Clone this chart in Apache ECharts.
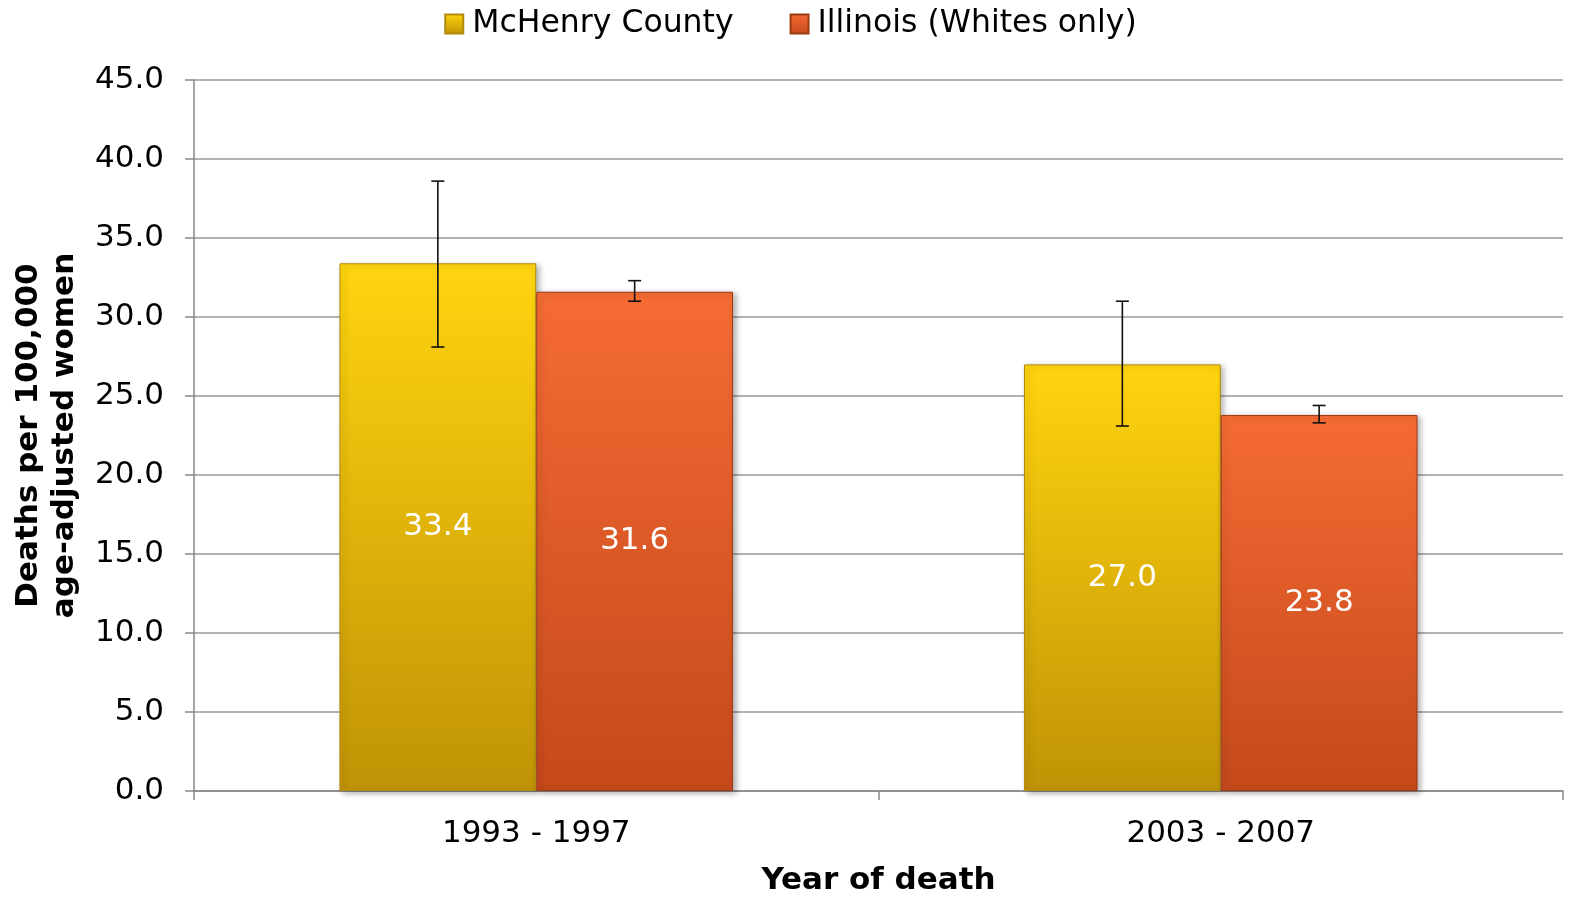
<!DOCTYPE html>
<html>
<head>
<meta charset="utf-8">
<script src="https://cdn.jsdelivr.net/npm/echarts@6/dist/echarts.min.js"></script>
<style>html,body{margin:0;padding:0;background:#fff;overflow:hidden;width:100%;height:100%}#c{width:100vw;height:100vh}</style>
</head>
<body>
<div id="c"></div>
<script>
const categories = ['1993 - 1997', '2003 - 2007'];
const seriesNames = ['McHenry County', 'Illinois (Whites only)'];
const mchenry = [33.4, 27.0];
const illinois = [31.6, 23.8];
const mchenryLow = [28.1, 23.1];
const mchenryHigh = [38.6, 31.0];
const illinoisLow = [31.0, 23.3];
const illinoisHigh = [32.3, 24.4];
const yTicks = [0, 5, 10, 15, 20, 25, 30, 35, 40, 45];

const FONT = 'DejaVu Sans';
const FS = 31;
const BAR_FRAC = 0.2875;

function grad(top, bottom) {
  return new echarts.graphic.LinearGradient(0, 0, 0, 1, [
    {offset: 0, color: top}, {offset: 1, color: bottom}
  ]);
}
const colA = grad('#FFD40F', '#C09306');
const colB = grad('#F56B34', '#C4491B');

function errSeries(name, low, high, sign) {
  return {
    type: 'custom',
    name: name + ' err',
    z: 10,
    silent: true,
    data: categories.map((c, i) => [i, low[i], high[i]]),
    renderItem: function (params, api) {
      const i = api.value(0);
      const lo = api.coord([i, api.value(1)]);
      const hi = api.coord([i, api.value(2)]);
      const w = api.size([1, 0])[0];
      const x = lo[0] + sign * w * BAR_FRAC / 2;
      const cap = 6.5;
      const st = {stroke: '#111', lineWidth: 1.6};
      return {
        type: 'group',
        children: [
          {type: 'line', shape: {x1: x, y1: lo[1], x2: x, y2: hi[1]}, style: st},
          {type: 'line', shape: {x1: x - cap, y1: lo[1], x2: x + cap, y2: lo[1]}, style: st},
          {type: 'line', shape: {x1: x - cap, y1: hi[1], x2: x + cap, y2: hi[1]}, style: st}
        ]
      };
    },
    encode: {x: 0, y: [1, 2]}
  };
}

const chart = echarts.init(document.getElementById('c'));
const barCommon = {
  type: 'bar',
  barWidth: (BAR_FRAC * 100) + '%',
  barGap: '0%',
  label: {
    show: true, position: 'inside', color: '#fff',
    fontFamily: FONT, fontSize: FS,
    formatter: p => p.value.toFixed(1)
  }
};
chart.setOption({
  animation: false,
  textStyle: {fontFamily: FONT},
  legend: {
    top: 3, left: 'center',
    itemWidth: 18, itemHeight: 19, itemGap: 56,
    icon: 'rect',
    textStyle: {fontFamily: FONT, fontSize: 31.5, color: '#000', padding: [0, 0, 0, 4]},
    data: seriesNames
  },
  grid: {left: 194, right: 18, top: 80, bottom: 112, outerBoundsMode: 'none', containLabel: false},
  xAxis: {
    type: 'category',
    data: categories,
    name: 'Year of death',
    nameLocation: 'middle',
    nameGap: 74,
    nameTextStyle: {fontFamily: FONT, fontSize: FS, fontWeight: 'bold', color: '#000'},
    axisLine: {lineStyle: {color: '#888', width: 1.5}},
    axisTick: {show: true, length: 9, lineStyle: {color: '#888', width: 1.5}},
    axisLabel: {fontFamily: FONT, fontSize: FS, color: '#000', margin: 27}
  },
  yAxis: {
    type: 'value',
    min: 0, max: 45, interval: 5,
    name: 'Deaths per 100,000\nage-adjusted women',
    nameLocation: 'middle',
    nameGap: 111,
    nameTextStyle: {fontFamily: FONT, fontSize: FS, fontWeight: 'bold', color: '#000', lineHeight: 36},
    axisLine: {show: true, lineStyle: {color: '#888', width: 1.5}},
    axisTick: {show: true, length: 9, lineStyle: {color: '#888', width: 1.5}},
    splitLine: {lineStyle: {color: '#999', width: 1.5}},
    axisLabel: {
      fontFamily: FONT, fontSize: FS, color: '#000', margin: 30,
      formatter: v => yTicks.indexOf(v) >= 0 ? v.toFixed(1) : ''
    }
  },
  series: [
    Object.assign({}, barCommon, {
      name: seriesNames[0], data: mchenry,
      itemStyle: {color: colA, borderColor: '#B08A0A', borderWidth: 1,
        shadowBlur: 6, shadowColor: 'rgba(0,0,0,0.3)', shadowOffsetX: 3, shadowOffsetY: 2}
    }),
    Object.assign({}, barCommon, {
      name: seriesNames[1], data: illinois,
      itemStyle: {color: colB, borderColor: '#9C3A14', borderWidth: 1,
        shadowBlur: 6, shadowColor: 'rgba(0,0,0,0.3)', shadowOffsetX: 3, shadowOffsetY: 2}
    }),
    errSeries(seriesNames[0], mchenryLow, mchenryHigh, -1),
    errSeries(seriesNames[1], illinoisLow, illinoisHigh, 1)
  ]
});
</script>
</body>
</html>
